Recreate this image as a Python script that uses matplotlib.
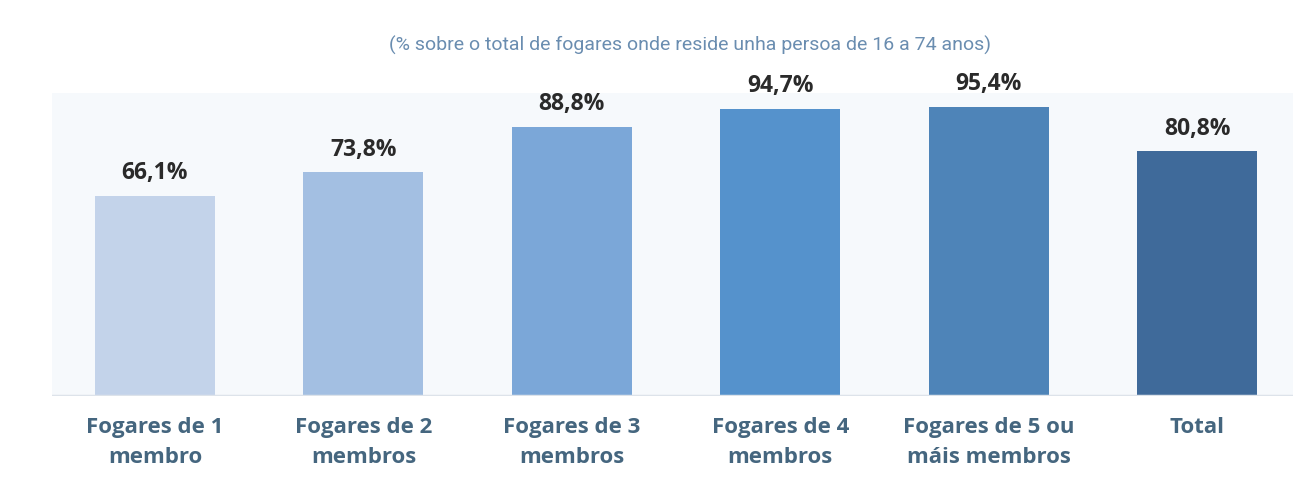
import matplotlib.pyplot as plt
import numpy as np

categories = ["Fogares de 1\nmembro", "Fogares de 2\nmembros", "Fogares de 3\nmembros",
              "Fogares de 4\nmembros", "Fogares de 5 ou\nmáis membros", "Total"]
values = [66.1, 73.8, 88.8, 94.7, 95.4, 80.8]
labels = ["66,1%", "73,8%", "88,8%", "94,7%", "95,4%", "80,8%"]
colors = ["#c3d3ea", "#a3bfe2", "#7ba7d8", "#5592cc", "#4e84b8", "#3f6a9a"]
subtitle = "(% sobre o total de fogares onde reside unha persoa de 16 a 74 anos)"

fig = plt.figure(figsize=(12.93, 4.82), dpi=100)
ax = fig.add_axes([52 / 1293, 86 / 482, 1 - 52 / 1293, 303 / 482])
ax.set_facecolor("#f6f9fc")

x = np.arange(len(values))
ax.bar(x, values, width=0.576, color=colors, zorder=2)
for xi, v, lab in zip(x, values, labels):
    ax.text(xi, v + 3.5, lab, ha="center", va="bottom", fontsize=16.5,
            fontweight="bold", color="#2a2a2a", family="Open Sans")

ax.axhline(0, color="#dde3ea", lw=2.5, zorder=3)
ax.set_xlim(-0.494, 5.46)
ax.set_ylim(0, 100)
ax.set_yticks([])
ax.set_xticks(x)
ax.set_xticklabels(categories, fontsize=16, fontweight="bold", color="#45667f",
                   family="Open Sans", linespacing=1.55)
ax.tick_params(axis="x", length=0, pad=15)
for s in ax.spines.values():
    s.set_visible(False)

fig.text(690 / 1293, 1 - 45 / 482, subtitle, ha="center", va="center", fontsize=14,
         color="#6a8db0", family="Roboto")

fig.savefig("out.png", dpi=100)
